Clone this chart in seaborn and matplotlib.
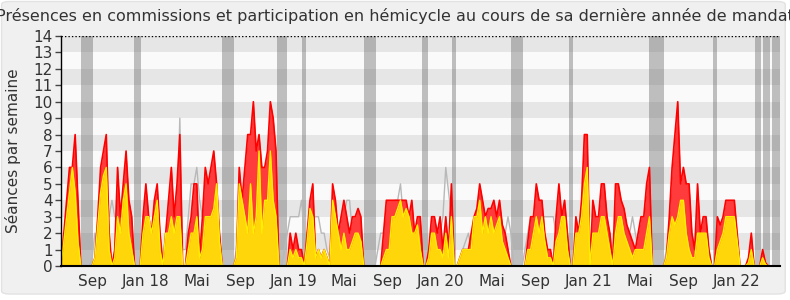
import numpy as np
import pandas as pd
import matplotlib
matplotlib.use("Agg")
import matplotlib.pyplot as plt
import matplotlib.dates as mdates
from matplotlib.patches import FancyBboxPatch
import seaborn as sns

# ---------------- data ----------------
title = "Présences en commissions et participation en hémicycle au cours de sa dernière année de mandat"
ylabel = "Séances par semaine"
start_date = "2017-06-14"

# red: total weekly sessions (commission + hemicycle)
presences_total = [
    0, 2, 4, 6, 6, 8, 4, 0, 0, 0, 0, 0, 0.5, 3, 6, 7, 8, 2, 0, 1,
    6, 3, 5, 7, 4, 3, 0, 0, 0, 3, 5, 3, 2, 4, 5, 2, 0, 2, 4, 6,
    3, 5, 8, 0, 0, 2, 3, 5, 5, 0.5, 3, 6, 5, 6, 7, 5, 2, 0, 0, 0,
    0, 0, 0.5, 6, 4, 6, 8, 8, 10, 7, 8, 6, 6, 7, 10, 9, 7, 0, 0, 0,
    0, 2, 1, 2, 1, 1, 0, 2, 4, 5, 0.5, 1, 0.5, 1, 0.5, 0, 5, 4, 2, 3,
    4, 3, 2, 3, 3, 3.5, 3, 0, 0, 0, 0, 0, 0, 0, 2, 4, 4, 4, 4, 4,
    4, 4, 4, 3, 4, 2, 3, 3, 0, 0, 1, 3, 3, 2, 3, 1, 3, 1, 5, 0,
    0, 0.5, 1, 1, 1, 2, 3, 3.5, 5, 4, 3, 3.5, 3.5, 4, 3, 4, 2.5, 2, 1, 0,
    0, 0, 0, 0, 0, 1.5, 3, 3, 5, 4, 4, 2, 1, 1, 0, 3, 5, 3, 4, 2,
    0, 0, 3, 2, 4, 8, 8, 0, 4, 3, 3, 5, 5, 3, 2, 0, 5, 5, 4, 3.5,
    2.5, 2, 1.5, 1, 2, 3, 3, 5, 6, 0, 0, 0, 0, 0, 0.5, 3, 6, 8, 10, 5,
    6, 5, 5, 2, 1, 5, 2, 3, 3, 1, 0, 0, 3, 2.5, 3, 4, 4, 4, 4, 2,
    0, 0, 0, 0.5, 2, 0, 0, 0, 1, 0.2, 0, 0, 0, 0,
]
# yellow: weekly commission sessions
presences_commission = [
    0, 1.5, 3, 4.5, 6, 4.5, 1.5, 0, 0, 0, 0, 0, 0.5, 2.5, 4.5, 5.5, 6, 1, 0, 0.5,
    3, 2, 4, 5, 2, 1, 0, 0, 0, 2, 3, 3, 2, 3, 4, 1, 0, 2, 2, 3,
    2, 3, 3, 0, 0, 1, 2, 2, 3, 0.5, 1, 3, 3, 3, 3.5, 5, 1.5, 0, 0, 0,
    0, 0, 0.5, 5, 4, 3, 2, 5, 2, 3, 7, 2, 4, 4, 7, 4, 3, 0, 0, 0,
    0, 1, 0.5, 1, 0.5, 0.5, 0, 1.5, 3.5, 3, 0.5, 1, 0.5, 1, 0.5, 0, 4, 3, 2, 1,
    2, 1, 1, 1.5, 2, 2, 1.5, 0, 0, 0, 0, 0, 0, 0, 0.5, 1, 1, 3, 3, 3.5,
    4, 3, 3.5, 3, 2, 2, 2.5, 1, 0, 0, 0.5, 2, 2, 1, 1, 0.5, 2, 0.5, 3, 0,
    0, 0.5, 1, 1, 1, 1, 3, 3, 4, 2, 3, 2, 3, 2, 2.5, 3, 1.5, 1, 0.5, 0,
    0, 0, 0, 0, 0, 1, 1, 2, 3, 2, 3, 1.5, 0.5, 0.5, 0, 1.5, 2, 3, 3, 1,
    0, 0, 2, 2, 3, 5, 6, 0, 2, 2, 2, 3, 3, 2, 1, 0, 2, 3, 3, 2,
    1.5, 1, 0.5, 1, 1, 1, 1, 2, 3, 0, 0, 0, 0, 0, 0.5, 2, 3, 2.5, 3, 4,
    4, 2, 1, 0.5, 0.5, 2, 2, 2, 2, 0.5, 0, 0, 1, 1.5, 2, 3, 3, 3, 3, 1.5,
    0, 0, 0, 0.2, 1, 0, 0, 0, 0.5, 0.1, 0, 0, 0, 0,
]
# grey: median of all deputies
mediane = [
    0, 1, 2, 3, 4, 4, 2, 0, 0, 0, 0, 0.5, 2, 1, 3, 4, 4, 3, 4, 3,
    3, 3, 3, 4, 3, 2, 0, 0, 0, 2, 3, 2, 2, 3, 3, 2, 0.5, 1, 2, 3,
    2, 3, 9, 1, 1, 3, 5, 5, 6, 4, 3, 4, 4, 4, 4, 3, 2, 0, 0, 0,
    0, 0, 1, 4, 3, 4, 4, 4, 4, 4, 4, 4, 4, 4, 4, 3, 3, 1, 0, 1,
    2, 3, 3, 3, 3, 4, 2, 2, 3, 3, 3, 3, 2, 2, 1, 0.5, 3, 3, 2, 3,
    3, 4, 4, 2, 2, 2, 1, 0, 0, 0, 0, 0, 1, 2, 2, 3, 3, 3, 4, 4,
    5, 3, 3, 3, 3, 2, 2, 2, 0, 0, 1, 2, 2, 2, 2, 3, 6, 4.5, 3, 0,
    0, 0.5, 1, 1.5, 2, 1, 2, 3, 3, 3, 2, 2, 2, 2, 2, 2, 2, 2, 3, 2,
    0, 0, 0, 0, 1, 2, 3, 3, 3, 3, 3, 3, 3, 3, 3, 2, 2, 1, 1, 1,
    0, 0, 2, 2, 3, 4, 4, 1, 2, 2, 2, 3, 3, 2, 2, 1, 2, 2, 2, 2,
    2, 2, 3, 2, 1, 1, 1, 2, 2, 0, 0, 0, 0, 0, 1, 2, 3, 3, 3, 3,
    3, 2, 2, 1, 1, 2, 2, 2, 2, 1, 0, 0, 2, 2, 2, 3, 3, 3, 3, 1,
    0, 0, 0, 0, 1, 0, 0, 0, 0.5, 0, 0, 0, 0, 0,
]
# parliamentary holidays
vacances = [
    ("2017-08-02", "2017-08-31"), ("2017-12-11", "2017-12-28"),
    ("2018-07-18", "2018-08-17"), ("2018-12-01", "2018-12-26"),
    ("2019-02-01", "2019-02-10"), ("2019-07-03", "2019-08-03"),
    ("2019-11-25", "2019-12-09"), ("2020-02-07", "2020-02-16"),
    ("2020-07-02", "2020-08-01"), ("2020-11-23", "2020-12-03"),
    ("2021-06-09", "2021-07-16"), ("2021-11-14", "2021-11-24"),
    ("2022-02-25", "2022-03-13"), ("2022-03-17", "2022-04-03"),
    ("2022-04-09", "2022-04-28"),
]
tick_dates = ["2017-09-01", "2018-01-10", "2018-05-16", "2018-09-01", "2019-01-10",
              "2019-05-16", "2019-09-01", "2020-01-10", "2020-05-16", "2020-09-01",
              "2021-01-10", "2021-05-16", "2021-09-01", "2022-01-10"]
tick_labels = ["Sep", "Jan 18", "Mai", "Sep", "Jan 19", "Mai", "Sep", "Jan 20",
               "Mai", "Sep", "Jan 21", "Mai", "Sep", "Jan 22"]
x_range = ("2017-06-14", "2022-04-28")

# ---------------- build ----------------
dates = pd.date_range(start_date, periods=len(presences_total), freq="7D")
df = pd.DataFrame({"date": dates, "total": presences_total,
                   "commission": presences_commission, "mediane": mediane})

sns.set_style("white")
plt.rcParams["font.family"] = ["DejaVu Sans"]

fig = plt.figure(figsize=(7.9, 3.0), dpi=100, facecolor="white")
bg = FancyBboxPatch((0.002, 0.02), 0.992, 0.975, boxstyle="round,pad=0,rounding_size=0.01",
                    transform=fig.transFigure, facecolor="#f0f0f0", edgecolor="#e2e2e2",
                    linewidth=1, zorder=-10)
fig.patches.append(bg)

ax = fig.add_axes([61 / 790, 34 / 300, 719 / 790, 230 / 300])
ax.set_facecolor("#fafafa")

for k in range(14):
    if k % 2 == 1:
        ax.axhspan(k, k + 1, color="#e6e6e6", lw=0, zorder=0)

for a, b in vacances:
    ax.axvspan(mdates.date2num(pd.Timestamp(a)), mdates.date2num(pd.Timestamp(b)),
               color="#666666", alpha=0.4, lw=0, zorder=1)

sns.lineplot(data=df, x="date", y="mediane", ax=ax, color="#b8b8b8", lw=1, zorder=2)
ax.fill_between(df["date"], df["total"], color="#ff3b3b", lw=0, zorder=3)
sns.lineplot(data=df, x="date", y="total", ax=ax, color="#ff0000", lw=1.2, zorder=4)
ax.fill_between(df["date"], df["commission"], color="#ffd60a", lw=0, zorder=5)
sns.lineplot(data=df, x="date", y="commission", ax=ax, color="#ffee00", lw=1, zorder=6)

ax.axhline(14, color="black", ls=(0, (1, 1.5)), lw=1, zorder=7)

ax.set_xlim(mdates.date2num(pd.Timestamp(x_range[0])), mdates.date2num(pd.Timestamp(x_range[1])))
ax.set_ylim(0, 14)
ax.set_yticks(range(0, 15))
ax.set_xticks([mdates.date2num(pd.Timestamp(d)) for d in tick_dates])
ax.set_xticklabels(tick_labels)
ax.tick_params(axis="y", which="both", length=4, width=1, color="#444444",
               labelsize=11, labelcolor="#333333", pad=2, left=True)
ax.tick_params(axis="x", length=0, labelsize=11, labelcolor="#333333", pad=6)
ax.set_xlabel("")
ax.set_ylabel("")

for s in ["top", "right"]:
    ax.spines[s].set_visible(False)
ax.spines["left"].set_color("black")
ax.spines["left"].set_linewidth(1)
ax.spines["bottom"].set_color("black")
ax.spines["bottom"].set_linewidth(1.5)
ax.spines["left"].set_zorder(8)
ax.spines["bottom"].set_zorder(8)

fig.text(0.5, 0.945, title, ha="center", va="center", fontsize=11.5, color="#333333")
fig.text(13 / 790, 0.497, ylabel, ha="center", va="center", rotation=90,
         fontsize=11, color="#333333")

fig.savefig("out.png", dpi=100, facecolor="white")
